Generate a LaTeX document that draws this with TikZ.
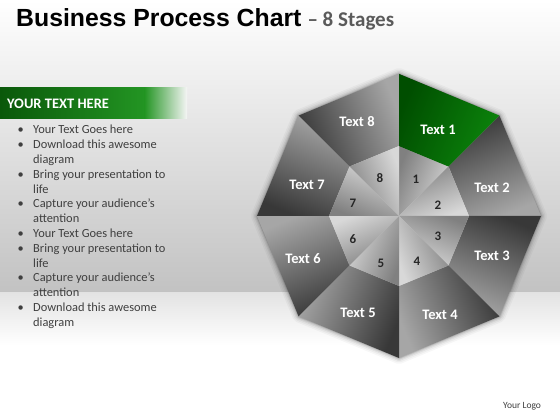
\documentclass[tikz,border=0pt]{standalone}
\usepackage{fontspec}
\setmainfont{Carlito}
\newfontfamily\titlefont{Liberation Sans}
\definecolor{odark}{HTML}{383838}
\definecolor{olight}{HTML}{A6A6A6}
\definecolor{idark}{HTML}{808080}
\definecolor{ilight}{HTML}{D8D8D8}
\definecolor{gdark}{HTML}{004E00}
\definecolor{glight}{HTML}{0C840C}
\definecolor{bandA}{HTML}{0A580A}
\definecolor{bandB}{HTML}{239523}
\definecolor{bgmid}{HTML}{EFEFEF}
\definecolor{bgbot}{HTML}{C2C2C2}
\definecolor{floor}{HTML}{E3E3E3}
\definecolor{bodytext}{HTML}{3F3F3F}
\definecolor{subgray}{HTML}{5A5A5A}
\tikzset{
  lbl/.style={font=\bfseries\fontsize{14.5}{16}\selectfont, text=white, inner sep=0pt},
  num/.style={font=\bfseries\fontsize{13}{15}\selectfont, text=black!85, inner sep=0pt},
  bodyline/.style={font=\fontsize{12.4}{14}\selectfont, text=bodytext, anchor=base west, inner sep=0pt},
}
\begin{document}
\begin{tikzpicture}[x=1pt,y=1pt]
\useasboundingbox (0,0) rectangle (560,420);
% background
\fill[white] (0,0) rectangle (560,420);
\shade[top color=white, middle color=bgmid, bottom color=bgbot] (0,127) rectangle (560,420);
\shade[top color=floor, bottom color=white] (0,75) rectangle (560,127);
% banner
\shade[left color=bandA, right color=bandB] (0,301) rectangle (145,332);
\shade[left color=bandB, right color=white!96!black] (144.5,301) rectangle (187,332);
\node[font=\bfseries\fontsize{14.5}{16}\selectfont, text=white, anchor=base west, inner sep=0pt] (banner) at (7,311) {YOUR TEXT HERE};
% title
\node[anchor=base west, inner sep=0pt] (title) at (16,393) {{\titlefont\bfseries\fontsize{24.8}{30}\selectfont Business Process Chart}\hspace{6pt}{\color{subgray}\bfseries\fontsize{21}{24}\selectfont – 8 Stages}};
% logo
\node[font=\fontsize{9.5}{11}\selectfont, text=bodytext, anchor=base west, inner sep=0pt] (logo) at (503,11) {Your Logo};
% bullet list
\foreach \t/\b [count=\i] in {Your Text Goes here/1, Download this awesome/1, diagram/0, Bring your presentation to/1, life/0, Capture your audience’s/1, attention/0, Your Text Goes here/1, Bring your presentation to/1, life/0, Capture your audience’s/1, attention/0, Download this awesome/1, diagram/0} {
  \pgfmathsetmacro\yy{286-14.8*(\i-1)}
  \node[bodyline] (line\i) at (33,\yy) {\t};
  \ifnum\b=1 \node[bodyline] (bul\i) at (17.5,\yy) {•}; \fi
}
% octagon
\begin{scope}[shift={(399,204)}]
  \foreach \w/\o in {12/0.03, 9/0.04, 6/0.06, 3.5/0.08, 1.5/0.12}
    \draw[line width=\w pt, black, opacity=\o, line join=round] (0:142) \foreach \a in {45,90,...,315} { -- (\a:142) } -- cycle;
  \foreach \k in {1,...,8} {
    \pgfmathsetmacro\aone{135-45*\k}
    \pgfmathsetmacro\atwo{90-45*\k}
    \pgfmathsetmacro\amid{112.5-45*\k}
    \shade[top color=odark, bottom color=olight, shading angle=\amid] (\aone:142) -- (\atwo:142) -- (\atwo:70) -- (\aone:70) -- cycle;
    \shade[top color=idark, bottom color=ilight, shading angle=\amid] (0,0) -- (\atwo:70) -- (\aone:70) -- cycle;
  }
  \shade[top color=gdark, bottom color=glight, shading angle=67.5] (90:142) -- (45:142) -- (45:70) -- (90:70) -- cycle;
\end{scope}
% labels
\node[lbl] (t1) at (438,290) {Text 1};
\node[lbl] (t2) at (492,232) {Text 2};
\node[lbl] (t3) at (492,164) {Text 3};
\node[lbl] (t4) at (440,105) {Text 4};
\node[lbl] (t5) at (358,107) {Text 5};
\node[lbl] (t6) at (303,161) {Text 6};
\node[lbl] (t7) at (307,235) {Text 7};
\node[lbl] (t8) at (357,298) {Text 8};
\node[num] (n1) at (416,241) {1};
\node[num] (n2) at (438,215) {2};
\node[num] (n3) at (438,184) {3};
\node[num] (n4) at (417,159) {4};
\node[num] (n5) at (381,157) {5};
\node[num] (n6) at (353,181) {6};
\node[num] (n7) at (353,217) {7};
\node[num] (n8) at (380,242) {8};
\end{tikzpicture}
\end{document}
